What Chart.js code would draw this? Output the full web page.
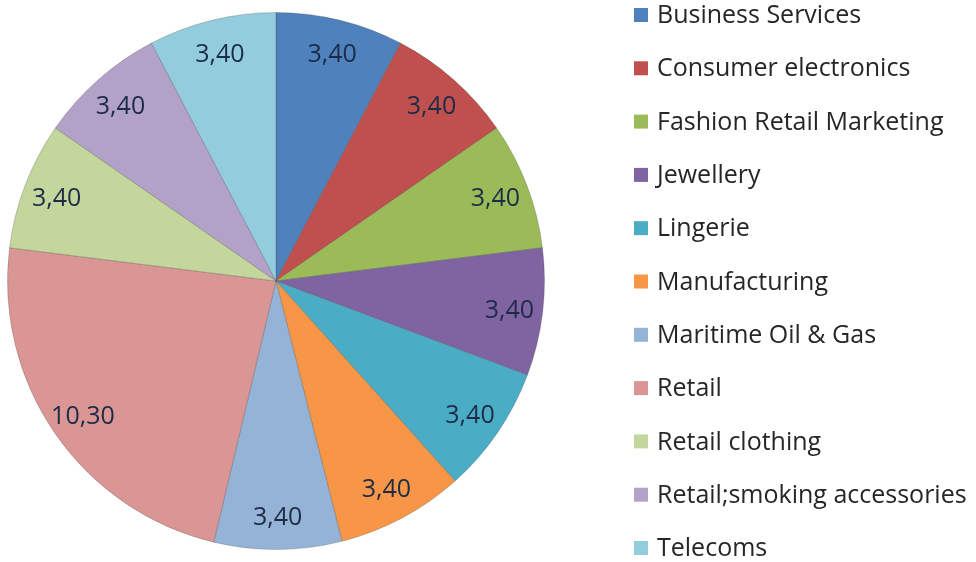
<!DOCTYPE html>
<html>
<head>
<meta charset="utf-8">
<script src="https://cdn.jsdelivr.net/npm/chart.js@4"></script>
<style>
  html, body { margin: 0; padding: 0; background: #fff; }
  #wrap { width: 976px; height: 562px; }
</style>
</head>
<body>
<div id="wrap"><canvas id="sectorChart"></canvas></div>
<script>
const sectors = [
    'Business Services', 'Consumer electronics', 'Fashion Retail Marketing', 'Jewellery',
    'Lingerie', 'Manufacturing', 'Maritime Oil & Gas', 'Retail', 'Retail clothing',
    'Retail;smoking accessories', 'Telecoms'
];
const shares = [3.40, 3.40, 3.40, 3.40, 3.40, 3.40, 3.40, 10.30, 3.40, 3.40, 3.40];
const sliceColors = [
    '#4f81bd', '#c0504d', '#9bbb59', '#8064a2', '#4bacc6', '#f79646',
    '#95b3d7', '#d99694', '#c3d69b', '#b3a2c7', '#93cddd'
];

const FONT = '"Open Sans", sans-serif';

// value labels inside each slice, comma decimal
const sliceLabels = {
    id: 'sliceLabels',
    afterDatasetsDraw(chart) {
        const ctx = chart.ctx;
        const meta = chart.getDatasetMeta(0);
        ctx.save();
        ctx.font = '25px ' + FONT;
        ctx.fillStyle = '#1d2b47';
        ctx.textAlign = 'center';
        ctx.textBaseline = 'middle';
        meta.data.forEach((arc, i) => {
            const mid = (arc.startAngle + arc.endAngle) / 2;
            const r = arc.outerRadius * 0.875;
            const x = arc.x + Math.cos(mid) * r;
            const y = arc.y + Math.sin(mid) * r;
            ctx.fillText(shares[i].toFixed(2).replace('.', ','), x, y + 2);
        });
        ctx.restore();
    }
};

// one column legend to the right of the pie
const sideLegend = {
    id: 'sideLegend',
    afterDraw(chart) {
        const ctx = chart.ctx;
        const left = 634, top = 15, step = 53.3, box = 14;
        ctx.save();
        ctx.font = '25px ' + FONT;
        ctx.textBaseline = 'middle';
        chart.data.labels.forEach((label, i) => {
            const y = top + i * step;
            ctx.fillStyle = sliceColors[i];
            ctx.fillRect(left, y - box / 2, box, box);
            ctx.fillStyle = '#262626';
            ctx.fillText(label, left + 23, y + 1);
        });
        ctx.restore();
    }
};

new Chart(document.getElementById('sectorChart'), {
    type: 'pie',
    data: {
        labels: sectors,
        datasets: [{
            data: shares,
            backgroundColor: sliceColors,
            borderColor: 'rgba(60, 60, 60, 0.25)',
            borderWidth: 1
        }]
    },
    options: {
        responsive: true,
        maintainAspectRatio: false,
        animation: false,
        layout: { padding: { left: 7, top: 12, bottom: 12, right: 431 } },
        plugins: {
            tooltip: { enabled: false },
            legend: { display: false }
        }
    },
    plugins: [sliceLabels, sideLegend]
});
</script>
</body>
</html>
